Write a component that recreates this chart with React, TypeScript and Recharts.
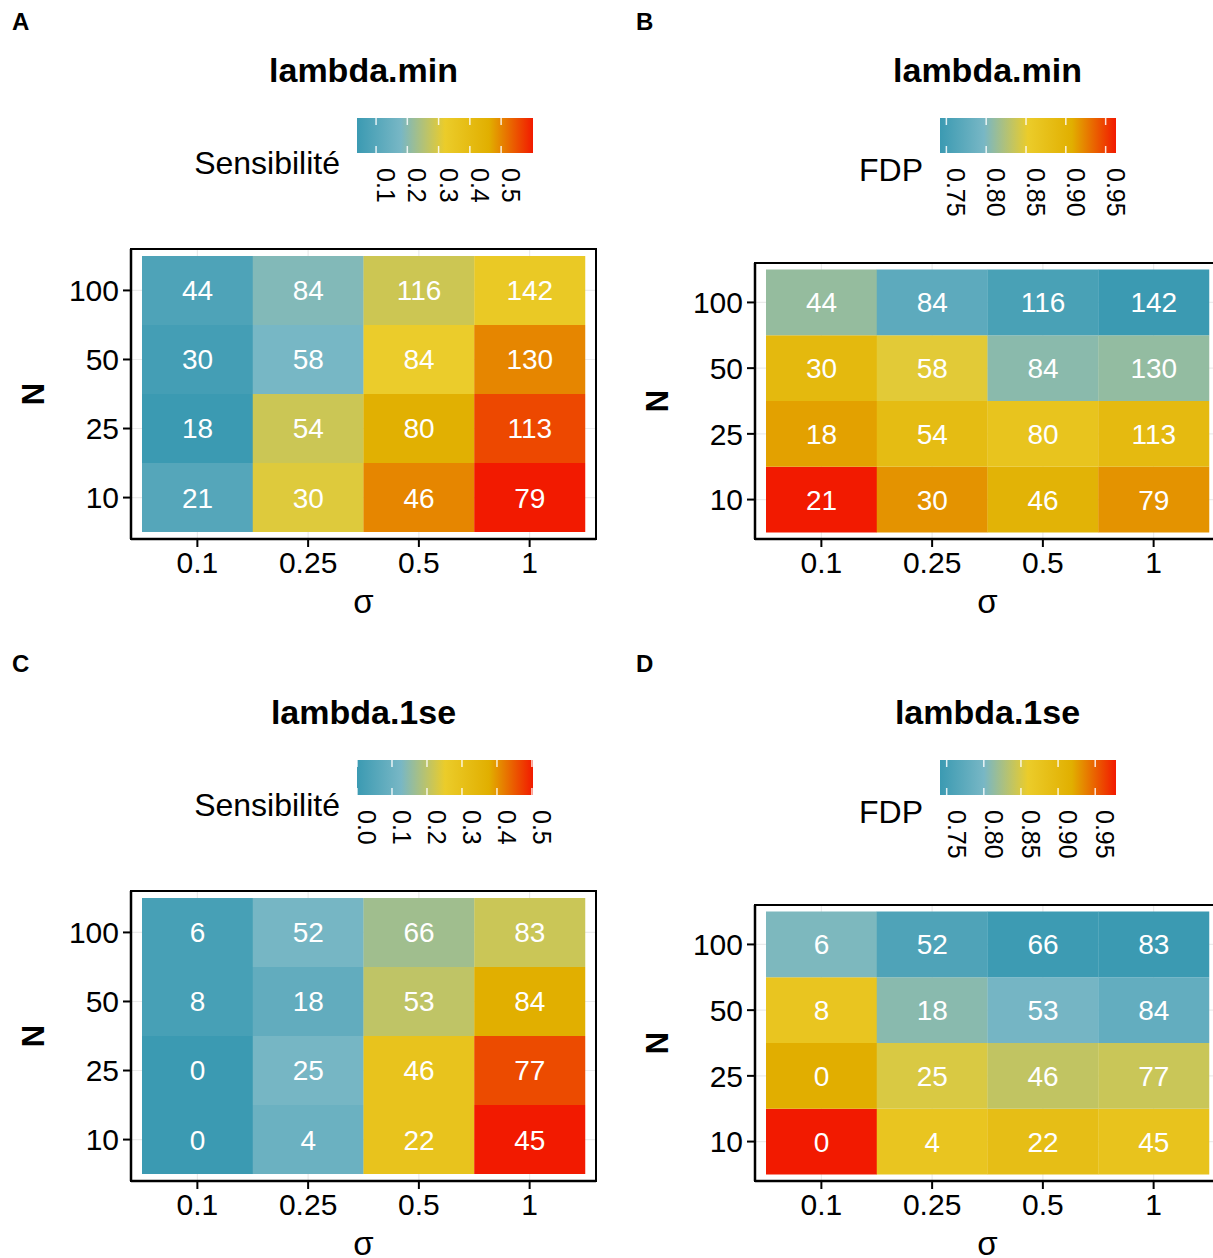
import React from "react";
import { BarChart, Bar, XAxis, YAxis, CartesianGrid, Cell, LabelList } from "recharts";

const sigmas = ["0.1", "0.25", "0.5", "1"];
const ns = ["10", "25", "50", "100"];

// rows: N = 10, 25, 50, 100 ; columns follow sigmas
const countsMin = [
  [21, 30, 46, 79],
  [18, 54, 80, 113],
  [30, 58, 84, 130],
  [44, 84, 116, 142],
];
const countsSe = [
  [0, 4, 22, 45],
  [0, 25, 46, 77],
  [8, 18, 53, 84],
  [6, 52, 66, 83],
];

// fill values
const sensMin = [
  [0.099, 0.304, 0.5, 0.602],
  [0.039, 0.281, 0.456, 0.559],
  [0.06, 0.178, 0.32, 0.5],
  [0.083, 0.192, 0.283, 0.337],
];
const fdpMin = [
  [0.963, 0.918, 0.9, 0.918],
  [0.913, 0.883, 0.868, 0.887],
  [0.889, 0.848, 0.806, 0.81],
  [0.811, 0.773, 0.755, 0.742],
];
const sensSe = [
  [0, 0.099, 0.29, 0.503],
  [0, 0.121, 0.29, 0.462],
  [0.025, 0.08, 0.203, 0.377],
  [0.025, 0.121, 0.17, 0.215],
];
const fdpSe = [
  [0.978, 0.874, 0.888, 0.878],
  [0.919, 0.85, 0.838, 0.842],
  [0.874, 0.809, 0.797, 0.78],
  [0.803, 0.76, 0.743, 0.741],
];

const sensMinTicks = [0.1, 0.2, 0.3, 0.4, 0.5];
const sensSeTicks = [0, 0.1, 0.2, 0.3, 0.4, 0.5];
const fdpTicks = [0.75, 0.8, 0.85, 0.9, 0.95];

const zissou = ["#3B9AB2", "#78B7C5", "#EBCC2A", "#E1AF00", "#F21A00"];

const hex = (h: string) => [1, 3, 5].map((k) => parseInt(h.slice(k, k + 2), 16));
const ramp = (t: number) => {
  const s = Math.max(0, Math.min(1, t)) * 4;
  const i = Math.min(3, Math.floor(s));
  const f = s - i;
  const a = hex(zissou[i]);
  const b = hex(zissou[i + 1]);
  return "rgb(" + a.map((v, k) => Math.round(v + (b[k] - v) * f)).join(",") + ")";
};

const FONT = '"Liberation Sans", Arial, Helvetica, sans-serif';

const W = 620;
const H = 640;
const PLOT_LEFT = 131;
const PLOT_RIGHT = 596;
const PLOT_BOTTOM = 539;

const Panel = ({ left, top, letter, title, legendTitle, counts, fills, ticks, digits, plotTop, legendTitleY, barX, id }: any) => {
  const all = fills.flat();
  const lo = Math.min(...all);
  const hi = Math.max(...all);
  const rows = sigmas.map((s, j) => {
    const r: any = { sigma: s };
    ns.forEach((n, i) => {
      r["n" + n] = 1;
      r["c" + n] = counts[i][j];
    });
    return r;
  });
  const barY = 118;
  const barW = 176;
  const barH = 35;
  return (
    <div style={{ position: "absolute", left, top, width: W, height: H }}>
      <BarChart
        width={W}
        height={H}
        data={rows}
        margin={{ top: plotTop, right: W - PLOT_RIGHT, bottom: H - PLOT_BOTTOM - 80, left: 0 }}
        barCategoryGap={0}
        barGap={0}
      >
        <CartesianGrid stroke="#EBEBEB" strokeWidth={1.2} />
        <XAxis
          dataKey="sigma"
          height={80}
          padding={{ left: 11, right: 11 }}
          tick={{ fill: "#000", fontSize: 30 }}
          tickSize={8}
          tickMargin={5}
          axisLine={{ stroke: "#000", strokeWidth: 2.5 }}
          tickLine={{ stroke: "#000", strokeWidth: 2 }}
          label={{ value: "σ", position: "insideBottom", offset: 6, fill: "#000", fontSize: 33 }}
        />
        <YAxis
          type="number"
          domain={[-0.1, 4.1]}
          ticks={[0.5, 1.5, 2.5, 3.5]}
          tickFormatter={(v: number) => ns[Math.floor(v)]}
          allowDataOverflow
          width={PLOT_LEFT}
          tick={{ fill: "#000", fontSize: 30 }}
          tickSize={8}
          tickMargin={4}
          axisLine={{ stroke: "#000", strokeWidth: 2.5 }}
          tickLine={{ stroke: "#000", strokeWidth: 2 }}
          label={{ value: "N", angle: -90, position: "insideLeft", offset: 33, fill: "#000", fontSize: 31, style: { textAnchor: "middle", fontWeight: "bold" } }}
        />
        {ns.map((n, i) => (
          <Bar key={n} dataKey={"n" + n} stackId="tile" isAnimationActive={false}>
            {sigmas.map((s, j) => (
              <Cell key={s} fill={ramp((fills[i][j] - lo) / (hi - lo))} />
            ))}
            <LabelList dataKey={"c" + n} position="center" fill="#fff" fontSize={28} />
          </Bar>
        ))}
      </BarChart>
      <svg width={W} height={H} style={{ position: "absolute", left: 0, top: 0, pointerEvents: "none" }}>
        <defs>
          <linearGradient id={id} x1="0" x2="1" y1="0" y2="0">
            {zissou.map((c, k) => (
              <stop key={k} offset={k / 4} stopColor={c} />
            ))}
          </linearGradient>
        </defs>
        {/* panel border */}
        <rect
          x={PLOT_LEFT}
          y={plotTop}
          width={PLOT_RIGHT - PLOT_LEFT}
          height={PLOT_BOTTOM - plotTop}
          fill="none"
          stroke="#000"
          strokeWidth={2}
        />
        <text x={12} y={30} fontSize={24} fontWeight="bold">{letter}</text>
        <text x={363.5} y={82} fontSize={34} fontWeight="bold" textAnchor="middle">{title}</text>
        <text x={barX - 17} y={legendTitleY} fontSize={32} textAnchor="end">{legendTitle}</text>
        <rect x={barX} y={barY} width={barW} height={barH} fill={`url(#${id})`} />
        {ticks.map((t: number) => {
          const tx = barX + ((t - lo) / (hi - lo)) * barW;
          return (
            <g key={t}>
              <line x1={tx} x2={tx} y1={barY} y2={barY + 7} stroke="#fff" strokeOpacity={0.85} strokeWidth={1.5} />
              <line x1={tx} x2={tx} y1={barY + barH - 7} y2={barY + barH} stroke="#fff" strokeOpacity={0.85} strokeWidth={1.5} />
              <text transform={`translate(${tx + 1},${barY + barH + 15}) rotate(90)`} fontSize={25}>
                {t.toFixed(digits)}
              </text>
            </g>
          );
        })}
      </svg>
    </div>
  );
};

export default function App() {
  return (
    <div style={{ position: "fixed", left: 0, top: 0, width: 1213, height: 1258, overflow: "hidden", background: "#fff", fontFamily: FONT }}>
      <Panel id="gA" left={0} top={0} letter="A" title="lambda.min" legendTitle="Sensibilité" counts={countsMin} fills={sensMin} ticks={sensMinTicks} digits={1} plotTop={249} legendTitleY={174} barX={357} />
      <Panel id="gB" left={624} top={0} letter="B" title="lambda.min" legendTitle="FDP" counts={countsMin} fills={fdpMin} ticks={fdpTicks} digits={2} plotTop={263} legendTitleY={181} barX={316} />
      <Panel id="gC" left={0} top={642} letter="C" title="lambda.1se" legendTitle="Sensibilité" counts={countsSe} fills={sensSe} ticks={sensSeTicks} digits={1} plotTop={249} legendTitleY={174} barX={357} />
      <Panel id="gD" left={624} top={642} letter="D" title="lambda.1se" legendTitle="FDP" counts={countsSe} fills={fdpSe} ticks={fdpTicks} digits={2} plotTop={263} legendTitleY={181} barX={316} />
    </div>
  );
}
